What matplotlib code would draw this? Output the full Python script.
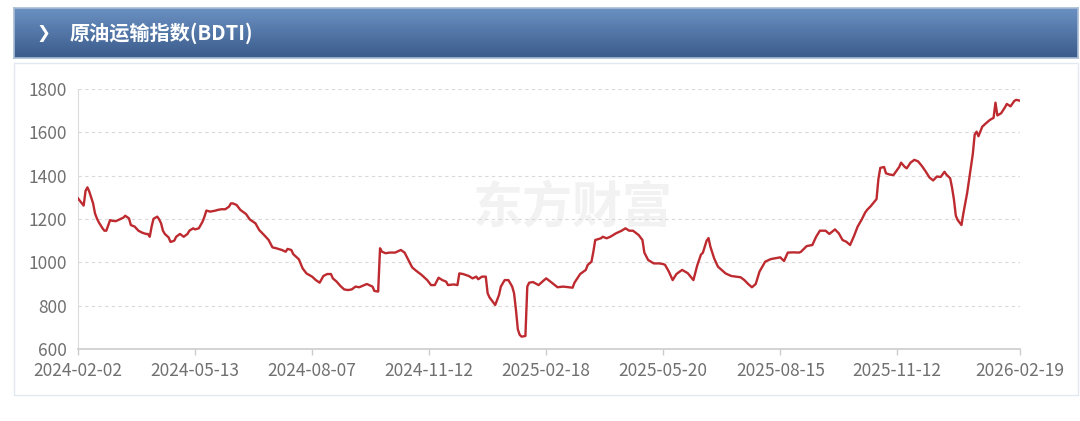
import numpy as np
import matplotlib.pyplot as plt
from matplotlib.patches import Rectangle

plt.rcParams['font.family'] = ['Noto Sans CJK SC', 'DejaVu Sans']

# trading-day number (0 = 2024-02-02) and BDTI close
days_a = [0, 3, 4, 5, 6, 8, 9, 10, 11, 13, 14, 15, 16, 17, 18, 20, 22, 24, 25, 27,
          28, 30, 32, 34, 36, 37, 38, 39, 40, 42, 43, 44, 45, 46, 48, 49, 51, 52, 54, 56,
          58, 59, 61, 62, 64, 66, 67, 68, 70, 73, 74, 76, 78, 80, 81, 82, 84, 86, 89, 91,
          94, 96, 99, 101, 103, 105, 108, 110, 111, 113, 114, 117, 119, 121, 124, 126, 128, 130, 132, 134,
          135, 137, 139, 141, 143, 145, 147, 149]
bdti_a = [1295, 1262, 1330, 1346, 1326, 1272, 1226, 1203, 1185, 1157, 1146, 1146, 1170, 1195, 1192, 1190, 1198, 1206, 1215, 1203,
          1172, 1165, 1146, 1137, 1131, 1131, 1118, 1165, 1201, 1211, 1198, 1180, 1146, 1131, 1115, 1094, 1100, 1118, 1131, 1118,
          1131, 1146, 1157, 1152, 1157, 1188, 1211, 1239, 1234, 1239, 1242, 1245, 1245, 1257, 1272, 1272, 1265, 1242, 1223, 1198,
          1180, 1149, 1122, 1103, 1069, 1065, 1057, 1049, 1062, 1057, 1038, 1014, 972, 949, 934, 918, 906, 937, 946, 946,
          926, 911, 891, 875, 872, 875, 888, 885]

days_b = [153, 156, 157, 159, 160, 161, 163, 165, 168, 171, 173, 175, 177, 179, 182, 185, 187, 189, 191, 193,
          195, 196, 199, 201, 202, 204, 207, 209, 211, 212, 214, 216, 217, 218, 221, 223, 224, 226, 228, 230,
          231, 232, 233, 234, 235, 237, 238, 239, 241, 244, 246, 248, 251, 254, 257, 262, 263, 266, 269, 270,
          272, 273, 274, 277, 278, 280, 282, 285, 288, 290, 292, 294, 297, 299, 300, 302, 305, 308, 310]
bdti_b = [900, 888, 868, 865, 1065, 1049, 1042, 1045, 1045, 1057, 1045, 1011, 977, 962, 942, 918, 895, 895, 929, 918,
          911, 895, 898, 895, 949, 946, 937, 926, 934, 922, 934, 934, 857, 838, 803, 849, 888, 918, 918, 888,
          857, 780, 690, 665, 657, 660, 888, 906, 909, 895, 911, 926, 906, 885, 888, 883, 906, 946, 965, 988,
          1003, 1049, 1103, 1111, 1118, 1111, 1118, 1134, 1146, 1157, 1146, 1146, 1126, 1103, 1045, 1011, 995, 995, 992]

days_c = [311, 313, 315, 317, 320, 323, 326, 328, 330, 331, 333, 334, 335, 337, 339, 343, 346, 351, 353, 355,
          357, 359, 361, 364, 367, 369, 372, 374, 376, 379, 382, 383, 386, 389, 391, 393, 396, 398, 401, 403,
          405, 407, 409]
bdti_c = [988, 957, 918, 946, 965, 950, 918, 985, 1036, 1044, 1100, 1112, 1072, 1018, 980, 949, 937, 931, 918, 900,
          885, 900, 957, 1003, 1015, 1018, 1023, 1006, 1045, 1046, 1045, 1049, 1075, 1080, 1118, 1146, 1146, 1131, 1152, 1134,
          1103, 1095, 1080]

days_d = [411, 413, 415, 417, 418, 420, 423, 424, 425, 427, 428, 430, 432, 435, 436, 438, 439, 441, 443, 445,
          447, 449, 451, 453, 455, 457, 459, 460, 462, 463, 464, 465, 466, 468, 469, 471, 472, 474, 475, 476,
          477, 479, 481, 483, 485, 486, 487, 489, 491, 492, 494, 496, 497, 499]
bdti_d = [1120, 1165, 1195, 1230, 1242, 1260, 1292, 1385, 1436, 1440, 1411, 1405, 1403, 1440, 1460, 1440, 1434, 1460, 1473, 1466,
          1445, 1420, 1392, 1378, 1396, 1394, 1418, 1405, 1388, 1345, 1290, 1215, 1195, 1172, 1226, 1320, 1380, 1500, 1590, 1603,
          1582, 1626, 1642, 1657, 1667, 1737, 1678, 1688, 1715, 1731, 1720, 1745, 1750, 1746]

tick_days = [0, 62, 124, 186, 248, 310, 372, 434, 499]
tick_labels = ['2024-02-02', '2024-05-13', '2024-08-07', '2024-11-12', '2025-02-18',
               '2025-05-20', '2025-08-15', '2025-11-12', '2026-02-19']

days = days_a + days_b + days_c + days_d
bdti = bdti_a + bdti_b + bdti_c + bdti_d

W, H = 1080, 421
fig = plt.figure(figsize=(W / 100, H / 100), dpi=100)
fig.patch.set_facecolor('white')

# header bar with vertical gradient
hx0, hx1, hy0, hy1 = 14, 1078, 8, 58
hax = fig.add_axes([hx0 / W, 1 - hy1 / H, (hx1 - hx0) / W, (hy1 - hy0) / H])
top = np.array([0x6b, 0x91, 0xc2]) / 255
bot = np.array([0x3a, 0x5b, 0x8b]) / 255
t = np.linspace(0, 1, 60)[:, None, None]
grad = top * (1 - t) + bot * t
hax.imshow(np.repeat(grad, 2, axis=1), aspect='auto', extent=[0, 1, 0, 1])
hax.set_xlim(0, 1)
hax.set_ylim(0, 1)
hax.set_xticks([])
hax.set_yticks([])
for s in hax.spines.values():
    s.set_color('#a9bcd4')
    s.set_linewidth(1.2)
fig.text(36 / W, 1 - 33 / H, '❯', color='white', fontsize=12, fontweight='bold',
         va='center', ha='left', family=['DejaVu Sans'])
fig.text(70 / W, 1 - 33 / H, '原油运输指数(BDTI)', color='white', fontsize=14.5,
         fontweight='bold', va='center', ha='left')

# chart frame
fig.add_artist(Rectangle((14 / W, 1 - 395 / H), (1078 - 14) / W, (395 - 63) / H,
                         transform=fig.transFigure, fill=False, edgecolor='#e2e8ef', lw=1))

ax = fig.add_axes([78 / W, 1 - 349 / H, (1020 - 78) / W, (349 - 89) / H])
ax.text(0.525, 0.54, '东方财富', transform=ax.transAxes, fontsize=36, fontweight='bold',
        color='#f2f2f2', ha='center', va='center', zorder=0)
ax.plot(days, bdti, color='#bd2a2f', lw=1.7, zorder=3)

ax.set_xlim(0, 499)
ax.set_ylim(600, 1800)
ax.set_yticks(range(600, 1801, 200))
ax.set_xticks(tick_days)
ax.set_xticklabels(tick_labels)
ax.yaxis.grid(True, linestyle=(0, (3, 3)), color='#d9d9d9', lw=0.8)
ax.set_axisbelow(True)
for side in ['top', 'right']:
    ax.spines[side].set_visible(False)
ax.spines['left'].set_color('#dcdcdc')
ax.spines['bottom'].set_color('#cccccc')
ax.spines['bottom'].set_linewidth(1.2)
ax.tick_params(axis='y', length=0, pad=8, labelsize=12.5, labelcolor='#707070')
ax.tick_params(axis='x', length=4, width=1, color='#cccccc', pad=5, labelsize=12.5,
               labelcolor='#707070')

fig.savefig('out.png', dpi=100, facecolor='white')
